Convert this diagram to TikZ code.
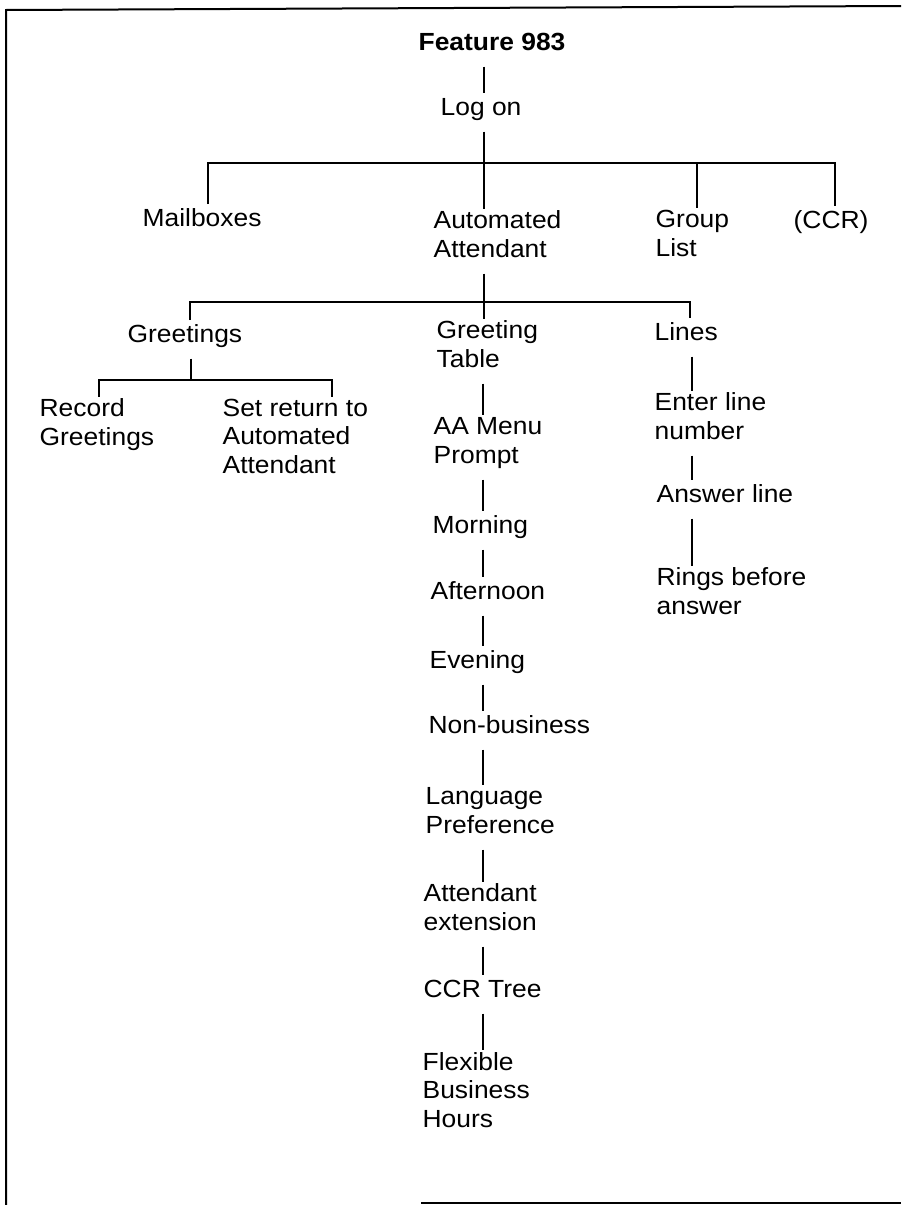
\documentclass[tikz,border=0pt]{standalone}
\usepackage{fontspec}
\setmainfont{Liberation Sans}[FakeStretch=1.065]
\begin{document}
\begin{tikzpicture}[x=0.5pt,y=-0.5pt,line width=0.65pt,
  lbl/.style={anchor=base west,inner sep=0pt,outer ysep=1pt,align=left,
    font=\fontsize{12.4}{14.25}\selectfont,execute at begin node=\strut},
  head/.style={lbl,font=\fontsize{12.4}{14.25}\selectfont\bfseries},
  link/.style={shorten <=3pt},
  frame/.style={line width=1pt}]
\useasboundingbox (0,0) rectangle (901,1205);

\draw[frame] (901,6) -- (6,10) -- (6,1205);
\draw[frame] (421,1203) -- (901,1203);

\node[head] (feat) at (418,50) {Feature 983};
\node[lbl] (logon) at (440,115) {Log on};

\node[lbl] (mail) at (142,226) {Mailboxes};
\node[lbl] (auto) at (433,257) {Automated\\Attendant};
\node[lbl] (group) at (655,256) {Group\\List};
\node[lbl] (ccr) at (793,228) {(CCR)};

\node[lbl] (greet) at (127,342) {Greetings};
\node[lbl] (gtab) at (436,367) {Greeting\\Table};
\node[lbl] (lines) at (654,340) {Lines};

\node[lbl] (rec) at (39,445) {Record\\Greetings};
\node[lbl] (setret) at (222,473) {Set return to\\Automated\\Attendant};

\node[lbl] (menu) at (433,463) {AA Menu\\Prompt};
\node[lbl] (morn) at (432,533) {Morning};
\node[lbl] (aft) at (430,599) {Afternoon};
\node[lbl] (eve) at (429,668) {Evening};
\node[lbl] (nonbus) at (428,733) {Non-business};
\node[lbl] (lang) at (425,833) {Language\\Preference};
\node[lbl] (attx) at (423,930) {Attendant\\extension};
\node[lbl] (ccrt) at (423,997) {CCR Tree};
\node[lbl] (flex) at (422,1127) {Flexible\\Business\\Hours};

\node[lbl] (enter) at (654,439) {Enter line\\number};
\node[lbl] (answer) at (656,502) {Answer line};
\node[lbl] (rings) at (656,614) {Rings before\\answer};

\coordinate (hub) at (484,163);
\coordinate (b1l) at (208,163);
\coordinate (b1g) at (697,163);
\coordinate (b1r) at (835,163);
\coordinate (b2l) at (190,302);
\coordinate (b2r) at (690,302);
\coordinate (b3) at (191,380);
\coordinate (b3l) at (99,380);
\coordinate (b3r) at (332,380);
\coordinate (aax) at (483,0);
\coordinate (lnx) at (692,0);

\draw[link] (feat.south -| hub) -- (logon.north -| hub);
\draw[link] (logon.south -| hub) -- (hub);
\draw (mail.north -| b1l) |- (b1r) -- (ccr.north -| b1r);
\draw (hub) -- (auto.north -| hub);
\draw (b1g) -- (group.north -| b1g);

\draw[link] (auto.south -| hub) -- (gtab.north -| hub);
\draw (greet.north -| b2l) |- (b2r) -- (lines.north -| b2r);

\draw[link] (greet.south -| b3) -- (b3);
\draw (rec.north -| b3l) |- (b3r) -- (setret.north -| b3r);

\foreach \a/\b in {gtab/menu,menu/morn,morn/aft,aft/eve,eve/nonbus,
    nonbus/lang,lang/attx,attx/ccrt,ccrt/flex}
  \draw[link] (\a.south -| aax) -- (\b.north -| aax);
\foreach \a/\b in {lines/enter,enter/answer,answer/rings}
  \draw[link] (\a.south -| lnx) -- (\b.north -| lnx);
\end{tikzpicture}
\end{document}
